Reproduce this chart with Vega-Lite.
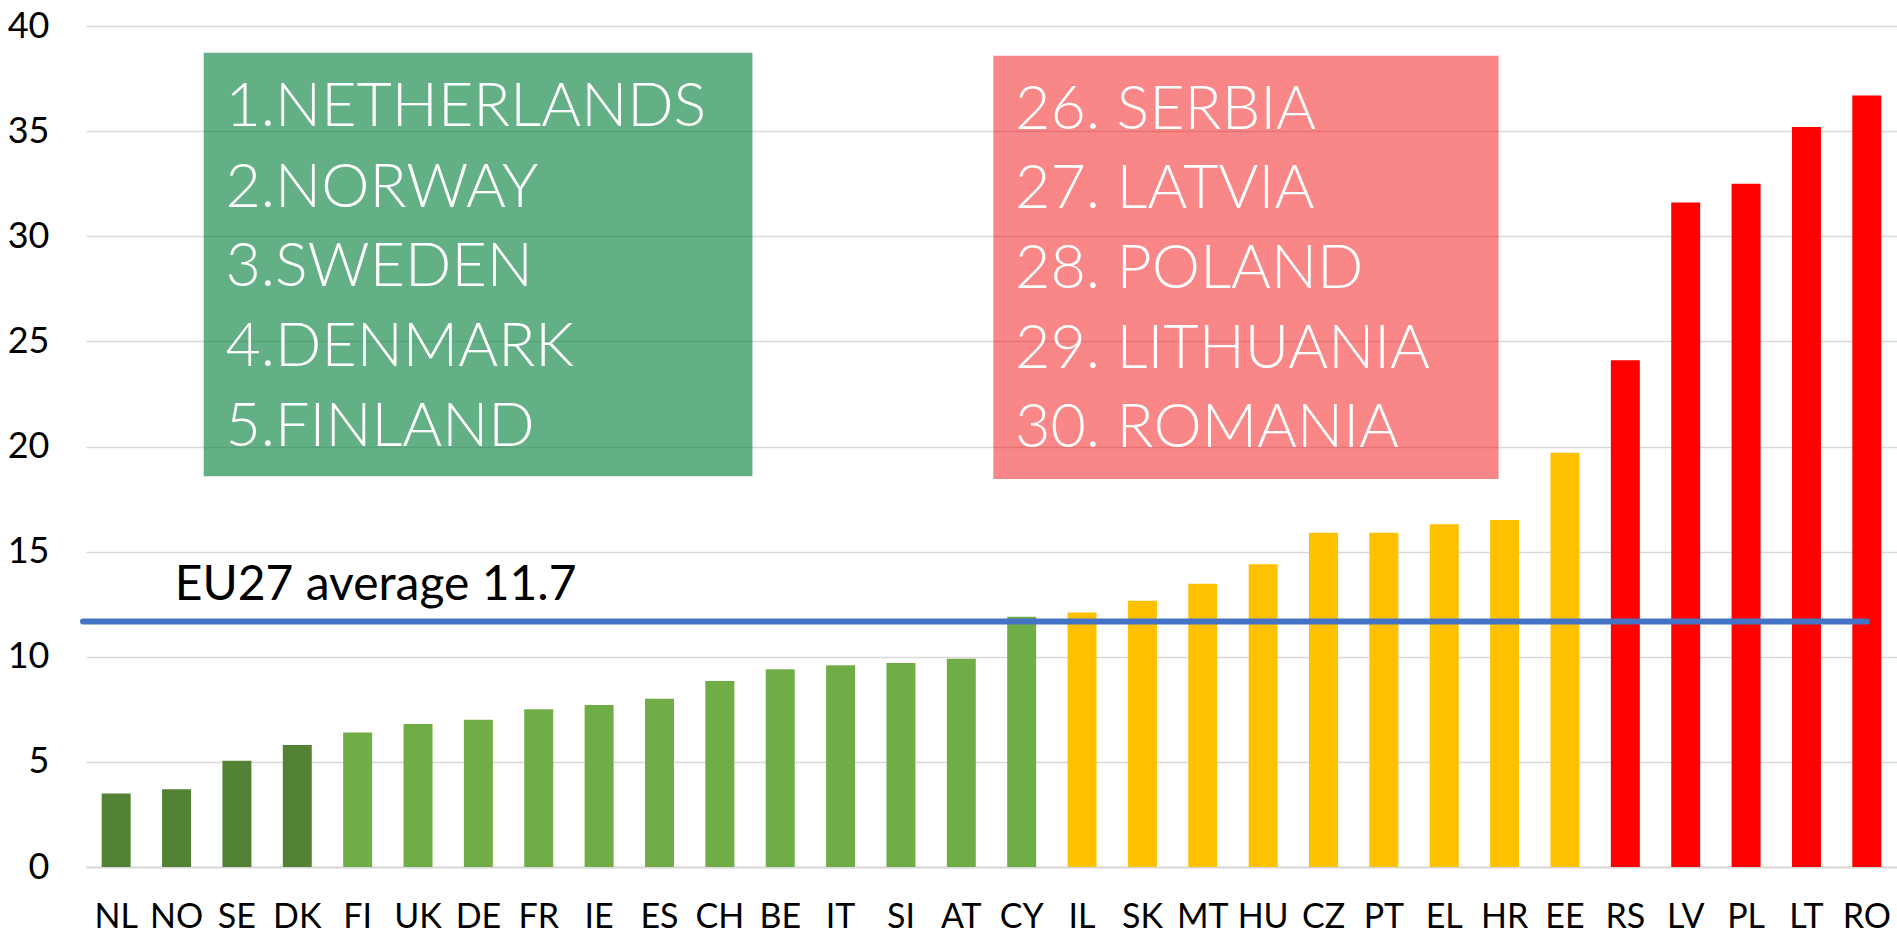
{
  "$schema": "https://vega.github.io/schema/vega-lite/v6.json",
  "width": 1811,
  "height": 841,
  "autosize": {"type": "none"},
  "padding": {"left": 86, "top": 26, "right": 0, "bottom": 67},
  "background": "#ffffff",
  "config": {
    "view": {"stroke": null},
    "axisY": {
      "domain": false, "ticks": false,
      "gridColor": "#D9D9D9", "gridWidth": 1.3,
      "labelFont": "Lato, sans-serif", "labelFontSize": 36,
      "labelColor": "#000000", "labelPadding": 37
    }
  },
  "datasets": {
    "bars": [
      {"c": "NL", "v": 3.5, "g": "top"},
      {"c": "NO", "v": 3.7, "g": "top"},
      {"c": "SE", "v": 5.05, "g": "top"},
      {"c": "DK", "v": 5.8, "g": "top"},
      {"c": "FI", "v": 6.4, "g": "good"},
      {"c": "UK", "v": 6.8, "g": "good"},
      {"c": "DE", "v": 7.0, "g": "good"},
      {"c": "FR", "v": 7.5, "g": "good"},
      {"c": "IE", "v": 7.7, "g": "good"},
      {"c": "ES", "v": 8.0, "g": "good"},
      {"c": "CH", "v": 8.85, "g": "good"},
      {"c": "BE", "v": 9.4, "g": "good"},
      {"c": "IT", "v": 9.6, "g": "good"},
      {"c": "SI", "v": 9.7, "g": "good"},
      {"c": "AT", "v": 9.9, "g": "good"},
      {"c": "CY", "v": 11.9, "g": "good"},
      {"c": "IL", "v": 12.1, "g": "mid"},
      {"c": "SK", "v": 12.66, "g": "mid"},
      {"c": "MT", "v": 13.47, "g": "mid"},
      {"c": "HU", "v": 14.4, "g": "mid"},
      {"c": "CZ", "v": 15.9, "g": "mid"},
      {"c": "PT", "v": 15.9, "g": "mid"},
      {"c": "EL", "v": 16.3, "g": "mid"},
      {"c": "HR", "v": 16.5, "g": "mid"},
      {"c": "EE", "v": 19.7, "g": "mid"},
      {"c": "RS", "v": 24.1, "g": "bad"},
      {"c": "LV", "v": 31.6, "g": "bad"},
      {"c": "PL", "v": 32.5, "g": "bad"},
      {"c": "LT", "v": 35.2, "g": "bad"},
      {"c": "RO", "v": 36.7, "g": "bad"}
    ],
    "boxes": [
      {"box": "best", "x1": 1.95, "x2": 11.04, "y1": 18.59, "y2": 38.73},
      {"box": "worst", "x1": 15.03, "x2": 23.4, "y1": 18.45, "y2": 38.59}
    ],
    "boxtext": [
      {"t": "1.NETHERLANDS", "x": 2.31, "y": 35.26},
      {"t": "2.NORWAY", "x": 2.31, "y": 31.41},
      {"t": "3.SWEDEN", "x": 2.31, "y": 27.61},
      {"t": "4.DENMARK", "x": 2.31, "y": 23.81},
      {"t": "5.FINLAND", "x": 2.31, "y": 20.01},
      {"t": "26. SERBIA", "x": 15.39, "y": 35.12},
      {"t": "27. LATVIA", "x": 15.39, "y": 31.32},
      {"t": "28. POLAND", "x": 15.39, "y": 27.52},
      {"t": "29. LITHUANIA", "x": 15.39, "y": 23.72},
      {"t": "30. ROMANIA", "x": 15.39, "y": 19.97}
    ],
    "avg": [
      {"x1": -0.05, "x2": 29.5, "y": 11.68, "label": "EU27 average 11.7", "lx": 1.47, "ly": 12.7}
    ]
  },
  "layer": [
    {
      "data": {"name": "bars"},
      "mark": {"type": "bar"},
      "encoding": {
        "x": {
          "field": "c", "type": "nominal", "sort": null,
          "scale": {"paddingInner": 0.52, "paddingOuter": 0.26},
          "axis": {
            "title": null, "labelAngle": 0, "ticks": false,
            "domainColor": "#D9D9D9", "domainWidth": 2,
            "labelFont": "Lato, sans-serif",
            "labelFontSize": 34, "labelColor": "#000000",
            "labelBaseline": "alphabetic", "labelPadding": 60
          }
        },
        "y": {
          "field": "v", "type": "quantitative", "title": null,
          "scale": {"domain": [0, 40], "nice": false, "zero": true},
          "axis": {"values": [0, 5, 10, 15, 20, 25, 30, 35, 40]}
        },
        "color": {
          "field": "g", "type": "nominal", "legend": null,
          "scale": {"domain": ["top", "good", "mid", "bad"], "range": ["#548235", "#70AD47", "#FFC000", "#FF0000"]}
        }
      }
    },
    {
      "data": {"name": "boxes"},
      "mark": {"type": "rect"},
      "encoding": {
        "x": {"field": "x1", "type": "quantitative", "scale": {"domain": [0, 30], "nice": false, "zero": false}, "axis": null},
        "x2": {"field": "x2"},
        "y": {"field": "y1", "type": "quantitative", "title": null, "scale": {"domain": [0, 40], "nice": false}},
        "y2": {"field": "y2"},
        "color": {
          "field": "box", "type": "nominal", "legend": null,
          "scale": {"domain": ["best", "worst"], "range": ["#037E3C", "#F50000"]}
        },
        "opacity": {
          "field": "box", "type": "nominal", "legend": null,
          "scale": {"domain": ["best", "worst"], "range": [0.62, 0.47]}
        }
      }
    },
    {
      "data": {"name": "boxtext"},
      "mark": {"type": "text", "align": "left", "baseline": "alphabetic", "font": "Lato", "fontWeight": 300, "fontSize": 61, "color": "#ffffff"},
      "encoding": {
        "x": {"field": "x", "type": "quantitative", "scale": {"domain": [0, 30], "nice": false, "zero": false}, "axis": null},
        "y": {"field": "y", "type": "quantitative", "title": null, "scale": {"domain": [0, 40], "nice": false}},
        "text": {"field": "t"}
      }
    },
    {
      "data": {"name": "avg"},
      "mark": {"type": "rule", "color": "#4472C4", "strokeWidth": 6, "strokeCap": "round"},
      "encoding": {
        "x": {"field": "x1", "type": "quantitative", "scale": {"domain": [0, 30], "nice": false, "zero": false}, "axis": null},
        "x2": {"field": "x2"},
        "y": {"field": "y", "type": "quantitative", "title": null, "scale": {"domain": [0, 40], "nice": false}}
      }
    },
    {
      "data": {"name": "avg"},
      "mark": {"type": "text", "align": "left", "baseline": "alphabetic", "font": "Lato", "fontSize": 48, "color": "#000000"},
      "encoding": {
        "x": {"field": "lx", "type": "quantitative", "scale": {"domain": [0, 30], "nice": false, "zero": false}, "axis": null},
        "y": {"field": "ly", "type": "quantitative", "title": null, "scale": {"domain": [0, 40], "nice": false}},
        "text": {"field": "label"}
      }
    }
  ],
  "resolve": {"scale": {"x": "independent", "color": "independent", "opacity": "independent"}}
}
